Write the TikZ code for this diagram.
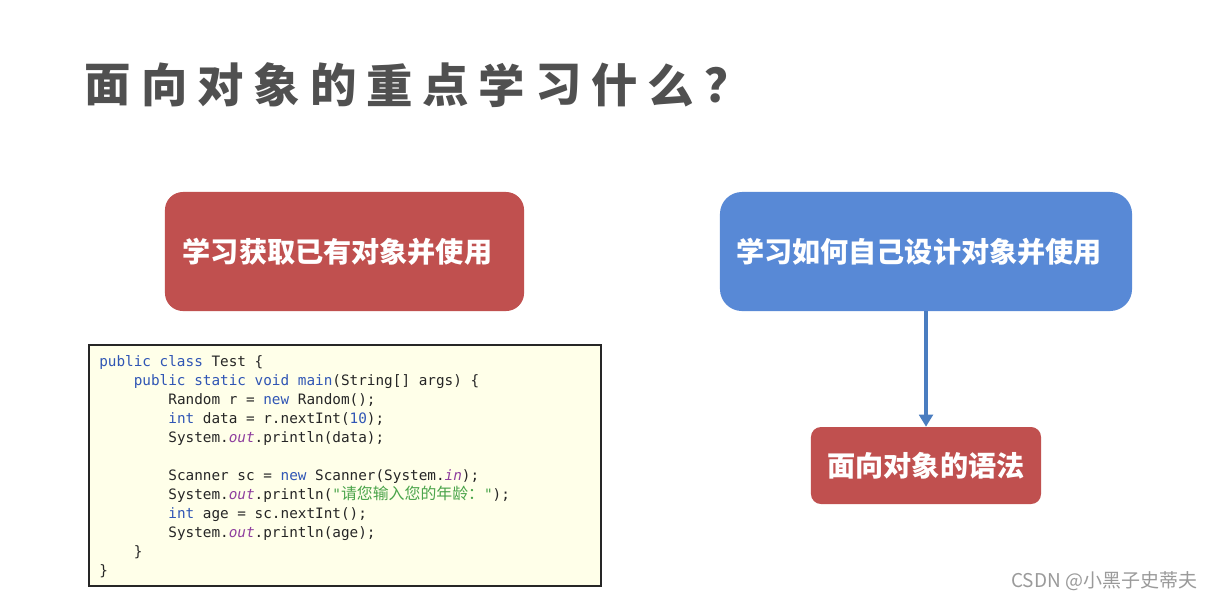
\documentclass[tikz,border=0pt]{standalone}
\usepackage{fontspec}
\usepackage{xcolor}
\newfontfamily\cjk{Noto Sans CJK SC}
\newfontfamily\codefont{DejaVu Sans Mono}
\definecolor{oored}{HTML}{C0504F}
\definecolor{ooblue}{HTML}{5889D6}
\definecolor{ooarrow}{HTML}{4A7DC0}
\definecolor{codebg}{HTML}{FFFFE9}
\definecolor{kwblue}{HTML}{3056B5}
\definecolor{fldpurple}{HTML}{8E3E9E}
\definecolor{strgreen}{HTML}{4AA44A}
\definecolor{titlegray}{HTML}{505050}
\definecolor{markgray}{HTML}{9A9A9A}
\usepackage{tikz}
\usetikzlibrary{arrows.meta}
\newcommand{\kw}[1]{\textcolor{kwblue}{#1}}
\newcommand{\fld}[1]{\textcolor{fldpurple}{\itshape #1}}
\newcommand{\ind}{\phantom{xxxx}}

\begin{document}
\begin{tikzpicture}[x=0.025cm,y=-0.025cm,
  topicbox/.style={rounded corners=0.45cm,text=white,font=\cjk\bfseries\fontsize{20}{24}\selectfont,inner sep=0pt}]
\useasboundingbox[fill=white] (0,0) rectangle (1216,601);
% title
\foreach \ch [count=\i] in {面,向,对,象,的,重,点,学,习,什,么,？}
  \node[titlegray,font=\cjk\bfseries\fontsize{33}{36}\selectfont] (t\i) at ({108+56.3*(\i-1)},85) {\ch};
% the two topics
\node[topicbox,fill=oored,minimum width=8.975cm,minimum height=2.975cm] (known) at (344.5,251.5)
  {学习获取已有对象并使用\kern0.35cm\relax};
\node[topicbox,fill=ooblue,rounded corners=0.55cm,minimum width=10.3cm,minimum height=2.975cm] (own) at (926,251.5)
  {学习如何自己设计对象并使用\kern0.35cm\relax};
\node[topicbox,fill=oored,rounded corners=0.25cm,minimum width=5.75cm,minimum height=1.925cm] (syntax) at (926,465.5)
  {面向对象的语法};
\draw[ooarrow,line width=0.1cm,-{Triangle[width=0.34cm,length=0.3cm]}] (own.south) -- (syntax.north);
% sample code
\node[draw=black!85,line width=1.1pt,fill=codebg,minimum width=12.8cm,minimum height=6.025cm,inner sep=0pt] (codebox) at (345,465.5) {};
\node[anchor=north west,inner sep=0pt,align=left,font=\codefont\fontsize{10.2}{13.5}\selectfont,text=black!85]
  (code) at (99,355) {%
\kw{public class} Test \{\\
\ind\kw{public static void main}(String[] args) \{\\
\ind\ind Random r = \kw{new} Random();\\
\ind\ind\kw{int} data = r.nextInt(\kw{10});\\
\ind\ind System.\fld{out}.println(data);\\
\mbox{}\\
\ind\ind Scanner sc = \kw{new} Scanner(System.\fld{in});\\
\ind\ind System.\fld{out}.println(\textcolor{strgreen}{"{\cjk\fontsize{11.3}{13.5}\selectfont 请您输入您的年龄：}"});\\
\ind\ind\kw{int} age = sc.nextInt();\\
\ind\ind System.\fld{out}.println(age);\\
\ind\}\\
\}};
% watermark
\node[markgray,anchor=east,font=\cjk\fontsize{13.5}{16}\selectfont] (mark) at (1202,581) {CSDN @小黑子史蒂夫};
\end{tikzpicture}
\end{document}
